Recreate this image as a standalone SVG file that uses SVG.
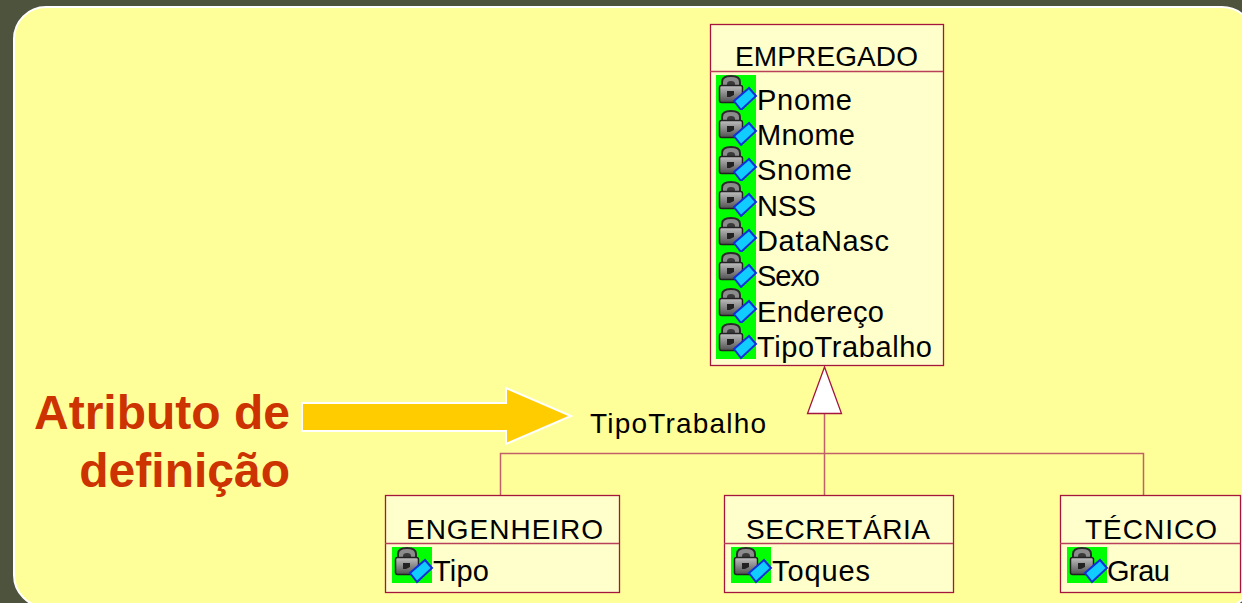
<svg xmlns="http://www.w3.org/2000/svg" width="1242" height="603" viewBox="0 0 1242 603">
<style>
text{font-family:"Liberation Sans",Arial,sans-serif;fill:#000;font-size:29px}
.ttl{font-size:28px}
.box{fill:#ffffcc;stroke:#a5163f;stroke-width:1.300}
.div{stroke:#b8405a;stroke-width:1.300;fill:none}
.conn{stroke:#c0606a;stroke-width:1.500;fill:none}
.head{font-size:48px;font-weight:bold;fill:#cc3300;text-anchor:end}
</style>
<defs>
<linearGradient id="lk" x1="0" y1="0" x2="0" y2="1"><stop offset="0" stop-color="#c0c0c0"/><stop offset="1" stop-color="#505050"/></linearGradient>
<g id="ic">
<rect width="40" height="36" fill="#00ff00"/>
<path d="M6 12V7Q6 1 15 1T24 7V12Z" fill="#8c8c8c" stroke="#2a2a2a" stroke-width="2"/>
<path d="M11 12V9Q11 6 15 6T19 9V12Z" fill="#3a3a3a"/>
<rect x="3.500" y="10.500" width="23" height="17" rx="2" fill="url(#lk)" stroke="#222" stroke-width="1.500"/>
<path d="M11 16H18V20L14 22H11Z" fill="#222"/>
<path d="M18 26L33 13L40 21L25 35Z" fill="#11ccff" stroke="#1030d8" stroke-width="2"/>
</g>
</defs>
<rect width="1242" height="603" fill="#4d533c"/>
<rect x="14" y="7" width="1240" height="600" rx="32" ry="32" fill="#ffff99" stroke="#ffffff" stroke-width="2"/>
<g id="connectors">
<path class="conn" d="M824.500 413V495M500.500 495V453.500H1143.500V495"/>
<path d="M824.500 367L807.500 413.500H841.500Z" fill="#fff" stroke="#a5163f" stroke-width="1.300"/>
</g>
<g id="arrow"><path d="M302 403H506V388L571 416L506 444V431H302Z" fill="#ffcc00" stroke="#fff" stroke-width="2"/></g>
<g id="label-atributo"><text class="head" x="290" y="429">Atributo de</text><text class="head" x="290" y="487">definição</text></g>
<g id="label-tipo"><text class="ttl" x="590" y="433" textLength="176">TipoTrabalho</text></g>
<g id="empregado">
<rect class="box" x="710.500" y="24.500" width="233" height="341"/>
<path class="div" d="M710 71.500H943"/>
<text class="ttl" x="735" y="66" textLength="183">EMPREGADO</text>
<use href="#ic" x="716" y="75"/><use href="#ic" x="716" y="110"/><use href="#ic" x="716" y="146"/><use href="#ic" x="716" y="181"/><use href="#ic" x="716" y="217"/><use href="#ic" x="716" y="252"/><use href="#ic" x="716" y="288"/><use href="#ic" x="716" y="323"/>
<text x="757" y="110" textLength="95">Pnome</text><text x="757" y="145" textLength="98">Mnome</text><text x="757" y="180" textLength="95">Snome</text><text x="757" y="216" textLength="59">NSS</text><text x="757" y="251" textLength="132">DataNasc</text><text x="757" y="286" textLength="63">Sexo</text><text x="757" y="322" textLength="127">Endereço</text><text x="757" y="357" textLength="175">TipoTrabalho</text>
</g>
<g id="engenheiro">
<rect class="box" x="385.500" y="495.500" width="234" height="97"/><path class="div" d="M385 543.500H619"/>
<text class="ttl" x="406" y="539" textLength="197">ENGENHEIRO</text>
<use href="#ic" x="392" y="547"/><text x="433" y="581" textLength="56">Tipo</text>
</g>
<g id="secretaria">
<rect class="box" x="724.500" y="495.500" width="229" height="97"/><path class="div" d="M724 543.500H953"/>
<text class="ttl" x="746" y="539" textLength="184">SECRETÁRIA</text>
<use href="#ic" x="731" y="547"/><text x="772" y="581" textLength="98">Toques</text>
</g>
<g id="tecnico">
<rect class="box" x="1060.500" y="495.500" width="180" height="97"/><path class="div" d="M1060 543.500H1240"/>
<text class="ttl" x="1085" y="539" textLength="132">TÉCNICO</text>
<use href="#ic" x="1067" y="547"/><text x="1107" y="581" textLength="63">Grau</text>
</g>
</svg>
